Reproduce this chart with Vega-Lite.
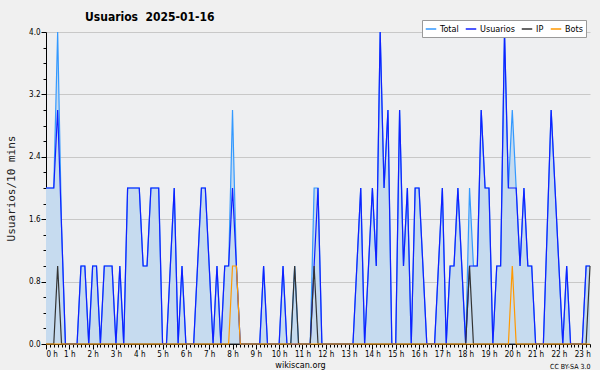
{
  "$schema": "https://vega.github.io/schema/vega-lite/v6.json",
  "width": 544,
  "height": 312,
  "autosize": {"type": "none"},
  "padding": {"left": 46, "top": 32, "right": 10, "bottom": 26},
  "background": "#f0f0f0",
  "config": {
    "font": "DejaVu Sans Condensed, DejaVu Sans",
    "view": {"fill": "#eeeff1", "stroke": null},
    "axis": {
      "labelFont": "DejaVu Sans Condensed, DejaVu Sans",
      "titleFont": "DejaVu Sans Condensed, DejaVu Sans",
      "domainColor": "#000000",
      "tickColor": "#000000",
      "labelColor": "#000000",
      "titleColor": "#000000",
      "gridColor": "#c8c8c8",
      "titleFontWeight": "normal"
    },
    "legend": {
      "orient": "none",
      "legendX": 376,
      "legendY": -12,
      "direction": "horizontal",
      "columns": 4,
      "fillColor": "#ffffff",
      "strokeColor": "#999999",
      "padding": 3,
      "symbolType": "stroke",
      "symbolSize": 110,
      "symbolStrokeWidth": 1.5,
      "labelFont": "DejaVu Sans Condensed, DejaVu Sans",
      "labelFontSize": 9,
      "labelColor": "#000000",
      "labelOffset": 3,
      "columnPadding": 3,
      "title": null
    }
  },
  "title": {
    "text": "Usuarios\u00a0\u00a02025-01-16",
    "anchor": "start",
    "frame": "group",
    "dx": 39,
    "dy": 8,
    "offset": 4,
    "font": "DejaVu Sans Condensed, DejaVu Sans",
    "fontSize": 12,
    "fontWeight": "bold",
    "color": "#000000"
  },
  "data": {
    "values": [
      {"t": 0, "Total": 2, "Usuarios": 2, "IP": 0, "Bots": 0},
      {"t": 10, "Total": 2, "Usuarios": 2, "IP": 0, "Bots": 0},
      {"t": 20, "Total": 2, "Usuarios": 2, "IP": 0, "Bots": 0},
      {"t": 30, "Total": 4, "Usuarios": 3, "IP": 1, "Bots": 0},
      {"t": 40, "Total": 1.5, "Usuarios": 1.5, "IP": 0, "Bots": 0},
      {"t": 50, "Total": 0, "Usuarios": 0, "IP": 0, "Bots": 0},
      {"t": 60, "Total": 0, "Usuarios": 0, "IP": 0, "Bots": 0},
      {"t": 70, "Total": 0, "Usuarios": 0, "IP": 0, "Bots": 0},
      {"t": 80, "Total": 0, "Usuarios": 0, "IP": 0, "Bots": 0},
      {"t": 90, "Total": 1, "Usuarios": 1, "IP": 0, "Bots": 0},
      {"t": 100, "Total": 1, "Usuarios": 1, "IP": 0, "Bots": 0},
      {"t": 110, "Total": 0, "Usuarios": 0, "IP": 0, "Bots": 0},
      {"t": 120, "Total": 1, "Usuarios": 1, "IP": 0, "Bots": 0},
      {"t": 130, "Total": 1, "Usuarios": 1, "IP": 0, "Bots": 0},
      {"t": 140, "Total": 0, "Usuarios": 0, "IP": 0, "Bots": 0},
      {"t": 150, "Total": 1, "Usuarios": 1, "IP": 0, "Bots": 0},
      {"t": 160, "Total": 1, "Usuarios": 1, "IP": 0, "Bots": 0},
      {"t": 170, "Total": 1, "Usuarios": 1, "IP": 0, "Bots": 0},
      {"t": 180, "Total": 0, "Usuarios": 0, "IP": 0, "Bots": 0},
      {"t": 190, "Total": 1, "Usuarios": 1, "IP": 0, "Bots": 0},
      {"t": 200, "Total": 0, "Usuarios": 0, "IP": 0, "Bots": 0},
      {"t": 210, "Total": 2, "Usuarios": 2, "IP": 0, "Bots": 0},
      {"t": 220, "Total": 2, "Usuarios": 2, "IP": 0, "Bots": 0},
      {"t": 230, "Total": 2, "Usuarios": 2, "IP": 0, "Bots": 0},
      {"t": 240, "Total": 2, "Usuarios": 2, "IP": 0, "Bots": 0},
      {"t": 250, "Total": 1, "Usuarios": 1, "IP": 0, "Bots": 0},
      {"t": 260, "Total": 1, "Usuarios": 1, "IP": 0, "Bots": 0},
      {"t": 270, "Total": 2, "Usuarios": 2, "IP": 0, "Bots": 0},
      {"t": 280, "Total": 2, "Usuarios": 2, "IP": 0, "Bots": 0},
      {"t": 290, "Total": 2, "Usuarios": 2, "IP": 0, "Bots": 0},
      {"t": 300, "Total": 0, "Usuarios": 0, "IP": 0, "Bots": 0},
      {"t": 310, "Total": 0, "Usuarios": 0, "IP": 0, "Bots": 0},
      {"t": 320, "Total": 1, "Usuarios": 1, "IP": 0, "Bots": 0},
      {"t": 330, "Total": 2, "Usuarios": 2, "IP": 0, "Bots": 0},
      {"t": 340, "Total": 0, "Usuarios": 0, "IP": 0, "Bots": 0},
      {"t": 350, "Total": 1, "Usuarios": 1, "IP": 0, "Bots": 0},
      {"t": 360, "Total": 0, "Usuarios": 0, "IP": 0, "Bots": 0},
      {"t": 370, "Total": 0, "Usuarios": 0, "IP": 0, "Bots": 0},
      {"t": 380, "Total": 0, "Usuarios": 0, "IP": 0, "Bots": 0},
      {"t": 390, "Total": 1, "Usuarios": 1, "IP": 0, "Bots": 0},
      {"t": 400, "Total": 2, "Usuarios": 2, "IP": 0, "Bots": 0},
      {"t": 410, "Total": 2, "Usuarios": 2, "IP": 0, "Bots": 0},
      {"t": 420, "Total": 1, "Usuarios": 1, "IP": 0, "Bots": 0},
      {"t": 430, "Total": 0, "Usuarios": 0, "IP": 0, "Bots": 0},
      {"t": 440, "Total": 1, "Usuarios": 1, "IP": 0, "Bots": 0},
      {"t": 450, "Total": 0, "Usuarios": 0, "IP": 0, "Bots": 0},
      {"t": 460, "Total": 1, "Usuarios": 1, "IP": 0, "Bots": 0},
      {"t": 470, "Total": 1, "Usuarios": 1, "IP": 0, "Bots": 0},
      {"t": 480, "Total": 3, "Usuarios": 2, "IP": 0, "Bots": 1},
      {"t": 490, "Total": 1, "Usuarios": 1, "IP": 0, "Bots": 1},
      {"t": 500, "Total": 0, "Usuarios": 0, "IP": 0, "Bots": 0},
      {"t": 510, "Total": 0, "Usuarios": 0, "IP": 0, "Bots": 0},
      {"t": 520, "Total": 0, "Usuarios": 0, "IP": 0, "Bots": 0},
      {"t": 530, "Total": 0, "Usuarios": 0, "IP": 0, "Bots": 0},
      {"t": 540, "Total": 0, "Usuarios": 0, "IP": 0, "Bots": 0},
      {"t": 550, "Total": 0, "Usuarios": 0, "IP": 0, "Bots": 0},
      {"t": 560, "Total": 1, "Usuarios": 1, "IP": 0, "Bots": 0},
      {"t": 570, "Total": 0, "Usuarios": 0, "IP": 0, "Bots": 0},
      {"t": 580, "Total": 0, "Usuarios": 0, "IP": 0, "Bots": 0},
      {"t": 590, "Total": 0, "Usuarios": 0, "IP": 0, "Bots": 0},
      {"t": 600, "Total": 0, "Usuarios": 0, "IP": 0, "Bots": 0},
      {"t": 610, "Total": 1, "Usuarios": 1, "IP": 0, "Bots": 0},
      {"t": 620, "Total": 0, "Usuarios": 0, "IP": 0, "Bots": 0},
      {"t": 630, "Total": 0, "Usuarios": 0, "IP": 0, "Bots": 0},
      {"t": 640, "Total": 1, "Usuarios": 0, "IP": 1, "Bots": 0},
      {"t": 650, "Total": 0, "Usuarios": 0, "IP": 0, "Bots": 0},
      {"t": 660, "Total": 0, "Usuarios": 0, "IP": 0, "Bots": 0},
      {"t": 670, "Total": 0, "Usuarios": 0, "IP": 0, "Bots": 0},
      {"t": 680, "Total": 0, "Usuarios": 0, "IP": 0, "Bots": 0},
      {"t": 690, "Total": 2, "Usuarios": 1, "IP": 1, "Bots": 0},
      {"t": 700, "Total": 2, "Usuarios": 2, "IP": 0, "Bots": 0},
      {"t": 710, "Total": 0, "Usuarios": 0, "IP": 0, "Bots": 0},
      {"t": 720, "Total": 0, "Usuarios": 0, "IP": 0, "Bots": 0},
      {"t": 730, "Total": 0, "Usuarios": 0, "IP": 0, "Bots": 0},
      {"t": 740, "Total": 0, "Usuarios": 0, "IP": 0, "Bots": 0},
      {"t": 750, "Total": 0, "Usuarios": 0, "IP": 0, "Bots": 0},
      {"t": 760, "Total": 0, "Usuarios": 0, "IP": 0, "Bots": 0},
      {"t": 770, "Total": 0, "Usuarios": 0, "IP": 0, "Bots": 0},
      {"t": 780, "Total": 0, "Usuarios": 0, "IP": 0, "Bots": 0},
      {"t": 790, "Total": 0, "Usuarios": 0, "IP": 0, "Bots": 0},
      {"t": 800, "Total": 1, "Usuarios": 1, "IP": 0, "Bots": 0},
      {"t": 810, "Total": 2, "Usuarios": 2, "IP": 0, "Bots": 0},
      {"t": 820, "Total": 0, "Usuarios": 0, "IP": 0, "Bots": 0},
      {"t": 830, "Total": 1, "Usuarios": 1, "IP": 0, "Bots": 0},
      {"t": 840, "Total": 2, "Usuarios": 2, "IP": 0, "Bots": 0},
      {"t": 850, "Total": 1, "Usuarios": 1, "IP": 0, "Bots": 0},
      {"t": 860, "Total": 4, "Usuarios": 4, "IP": 0, "Bots": 0},
      {"t": 870, "Total": 2, "Usuarios": 2, "IP": 0, "Bots": 0},
      {"t": 880, "Total": 3, "Usuarios": 3, "IP": 0, "Bots": 0},
      {"t": 890, "Total": 0, "Usuarios": 0, "IP": 0, "Bots": 0},
      {"t": 900, "Total": 0, "Usuarios": 0, "IP": 0, "Bots": 0},
      {"t": 910, "Total": 3, "Usuarios": 3, "IP": 0, "Bots": 0},
      {"t": 920, "Total": 1, "Usuarios": 1, "IP": 0, "Bots": 0},
      {"t": 930, "Total": 2, "Usuarios": 2, "IP": 0, "Bots": 0},
      {"t": 940, "Total": 0, "Usuarios": 0, "IP": 0, "Bots": 0},
      {"t": 950, "Total": 2, "Usuarios": 2, "IP": 0, "Bots": 0},
      {"t": 960, "Total": 2, "Usuarios": 2, "IP": 0, "Bots": 0},
      {"t": 970, "Total": 1, "Usuarios": 1, "IP": 0, "Bots": 0},
      {"t": 980, "Total": 0, "Usuarios": 0, "IP": 0, "Bots": 0},
      {"t": 990, "Total": 0, "Usuarios": 0, "IP": 0, "Bots": 0},
      {"t": 1000, "Total": 0, "Usuarios": 0, "IP": 0, "Bots": 0},
      {"t": 1010, "Total": 1, "Usuarios": 1, "IP": 0, "Bots": 0},
      {"t": 1020, "Total": 2, "Usuarios": 2, "IP": 0, "Bots": 0},
      {"t": 1030, "Total": 0, "Usuarios": 0, "IP": 0, "Bots": 0},
      {"t": 1040, "Total": 1, "Usuarios": 1, "IP": 0, "Bots": 0},
      {"t": 1050, "Total": 1, "Usuarios": 1, "IP": 0, "Bots": 0},
      {"t": 1060, "Total": 2, "Usuarios": 2, "IP": 0, "Bots": 0},
      {"t": 1070, "Total": 1, "Usuarios": 1, "IP": 0, "Bots": 0},
      {"t": 1080, "Total": 0, "Usuarios": 0, "IP": 0, "Bots": 0},
      {"t": 1090, "Total": 2, "Usuarios": 1, "IP": 1, "Bots": 0},
      {"t": 1100, "Total": 1, "Usuarios": 1, "IP": 0, "Bots": 0},
      {"t": 1110, "Total": 1, "Usuarios": 1, "IP": 0, "Bots": 0},
      {"t": 1120, "Total": 3, "Usuarios": 3, "IP": 0, "Bots": 0},
      {"t": 1130, "Total": 2, "Usuarios": 2, "IP": 0, "Bots": 0},
      {"t": 1140, "Total": 2, "Usuarios": 2, "IP": 0, "Bots": 0},
      {"t": 1150, "Total": 0, "Usuarios": 0, "IP": 0, "Bots": 0},
      {"t": 1160, "Total": 1, "Usuarios": 1, "IP": 0, "Bots": 0},
      {"t": 1170, "Total": 1, "Usuarios": 1, "IP": 0, "Bots": 0},
      {"t": 1180, "Total": 4, "Usuarios": 4, "IP": 0, "Bots": 0},
      {"t": 1190, "Total": 2, "Usuarios": 2, "IP": 0, "Bots": 0},
      {"t": 1200, "Total": 3, "Usuarios": 2, "IP": 0, "Bots": 1},
      {"t": 1210, "Total": 2, "Usuarios": 2, "IP": 0, "Bots": 0},
      {"t": 1220, "Total": 1, "Usuarios": 1, "IP": 0, "Bots": 0},
      {"t": 1230, "Total": 2, "Usuarios": 2, "IP": 0, "Bots": 0},
      {"t": 1240, "Total": 1, "Usuarios": 1, "IP": 0, "Bots": 0},
      {"t": 1250, "Total": 1, "Usuarios": 1, "IP": 0, "Bots": 0},
      {"t": 1260, "Total": 0, "Usuarios": 0, "IP": 0, "Bots": 0},
      {"t": 1270, "Total": 0, "Usuarios": 0, "IP": 0, "Bots": 0},
      {"t": 1280, "Total": 0, "Usuarios": 0, "IP": 0, "Bots": 0},
      {"t": 1290, "Total": 1.5, "Usuarios": 1.5, "IP": 0, "Bots": 0},
      {"t": 1300, "Total": 3, "Usuarios": 3, "IP": 0, "Bots": 0},
      {"t": 1310, "Total": 2, "Usuarios": 2, "IP": 0, "Bots": 0},
      {"t": 1320, "Total": 1, "Usuarios": 1, "IP": 0, "Bots": 0},
      {"t": 1330, "Total": 0, "Usuarios": 0, "IP": 0, "Bots": 0},
      {"t": 1340, "Total": 1, "Usuarios": 1, "IP": 0, "Bots": 0},
      {"t": 1350, "Total": 0, "Usuarios": 0, "IP": 0, "Bots": 0},
      {"t": 1360, "Total": 0, "Usuarios": 0, "IP": 0, "Bots": 0},
      {"t": 1370, "Total": 0, "Usuarios": 0, "IP": 0, "Bots": 0},
      {"t": 1380, "Total": 0, "Usuarios": 0, "IP": 0, "Bots": 0},
      {"t": 1390, "Total": 1, "Usuarios": 1, "IP": 0, "Bots": 0},
      {"t": 1400, "Total": 1, "Usuarios": 1, "IP": 1, "Bots": 0}
    ]
  },
  "layer": [
    {
      "mark": {"type": "area", "color": "#c6dbef", "opacity": 1},
      "encoding": {
        "x": {
          "field": "t",
          "type": "quantitative",
          "scale": {"domain": [0, 1400], "nice": false, "zero": false},
          "axis": {
            "orient": "bottom",
            "title": "wikiscan.org",
            "titleFontSize": 9,
            "titleX": 254,
            "titlePadding": 2,
            "tickCount": 140,
            "grid": false,
            "labelOverlap": false,
            "labelFontSize": 8,
            "labelPadding": 1,
            "labelExpr": "datum.value % 60 == 0 && datum.value < 1400 ? floor(datum.value / 60) + ' h' : ''",
            "tickSize": {"condition": {"test": "datum.value % 60 == 0", "value": 5}, "value": 3}
          }
        },
        "y": {
          "field": "Total",
          "type": "quantitative",
          "scale": {"domain": [0, 4], "nice": false},
          "axis": {
            "orient": "left",
            "title": "Usuarios/10 mins",
            "titleFont": "DejaVu Sans Mono",
            "titleFontSize": 11,
            "titlePadding": 12,
            "titleColor": "#222222",
            "tickCount": 20,
            "labelOverlap": false,
            "labelFontSize": 8,
            "labelPadding": 1,
            "labelExpr": "abs(datum.value / 0.8 - round(datum.value / 0.8)) < 0.01 ? format(datum.value, '.1f') : ''",
            "gridOpacity": {"condition": {"test": "abs(datum.value / 0.8 - round(datum.value / 0.8)) < 0.01 && datum.value > 0", "value": 1}, "value": 0},
            "tickSize": {"condition": {"test": "abs(datum.value / 0.8 - round(datum.value / 0.8)) < 0.01", "value": 5}, "value": 3}
          }
        }
      }
    },
    {
      "transform": [{"fold": ["Total", "Usuarios", "IP", "Bots"], "as": ["serie", "valor"]}],
      "mark": {"type": "line", "strokeWidth": 1.2},
      "encoding": {
        "x": {
          "field": "t",
          "type": "quantitative",
          "axis": {
            "orient": "bottom",
            "title": "CC BY-SA 3.0",
            "labels": false,
            "ticks": false,
            "domain": false,
            "grid": false,
            "titleAnchor": "end",
            "titleFontSize": 7,
            "titlePadding": 18
          }
        },
        "y": {"field": "valor", "type": "quantitative", "axis": null},
        "color": {
          "field": "serie",
          "type": "nominal",
          "sort": ["Total", "Usuarios", "IP", "Bots"],
          "scale": {"domain": ["Total", "Usuarios", "IP", "Bots"], "range": ["#3399ff", "#1020ff", "#333333", "#ff9900"]},
          "legend": {}
        }
      }
    }
  ],
  "resolve": {"axis": {"x": "independent", "y": "independent"}}
}
